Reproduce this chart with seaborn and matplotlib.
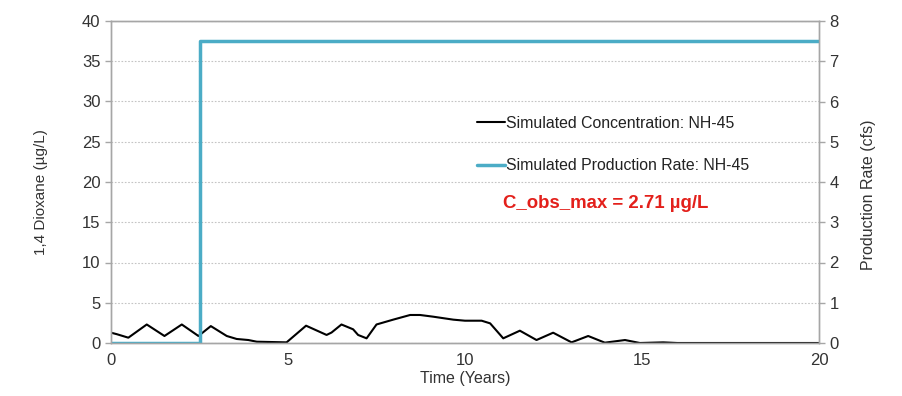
import numpy as np
import pandas as pd
import seaborn as sns
import matplotlib
matplotlib.use("Agg")
import matplotlib.pyplot as plt

# ---- data ----
time_conc = [0.0, 0.16, 0.49, 1.01, 1.51, 2.0, 2.47, 2.82, 3.27, 3.55, 3.88, 4.12,
             4.96, 5.51, 6.09, 6.23, 6.51, 6.84, 6.98, 7.22, 7.5, 7.97, 8.45, 8.73,
             9.1, 9.67, 10.0, 10.47, 10.71, 11.08, 11.55, 12.02, 12.49, 13.01, 13.48,
             13.95, 14.52, 14.94, 15.6, 16.0, 20.0]
conc = [1.28, 1.1, 0.66, 2.3, 0.87, 2.3, 0.87, 2.1, 0.87, 0.5, 0.37, 0.16,
        0.08, 2.15, 1.0, 1.3, 2.3, 1.7, 1.0, 0.58, 2.3, 2.9, 3.48, 3.48,
        3.27, 2.9, 2.77, 2.77, 2.44, 0.58, 1.53, 0.37, 1.28, 0.08, 0.87,
        0.04, 0.37, 0.0, 0.08, 0.0, 0.0]
time_rate = [0.0, 2.5, 20.0]
rate = [0.0, 7.5, 7.5]
x_ticks = [0, 5, 10, 15, 20]
left_ticks = [0, 5, 10, 15, 20, 25, 30, 35, 40]
right_ticks = [0, 1, 2, 3, 4, 5, 6, 7, 8]

conc_label = "Simulated Concentration: NH-45"
rate_label = "Simulated Production Rate: NH-45"
note = "C_obs_max = 2.71 \u00b5g/L"

sns.set_style("white")
plt.rcParams['font.family'] = ['Liberation Sans', 'DejaVu Sans']

fig = plt.figure(figsize=(9.02, 3.96), dpi=100)
ax = fig.add_axes([111/902, 1-343/396, (819-111)/902, (343-21)/396])
ax2 = ax.twinx()

df_c = pd.DataFrame({"t": time_conc, "c": conc})
df_r = pd.DataFrame({"t": time_rate, "q": rate})

sns.lineplot(data=df_c, x="t", y="c", ax=ax, color="black", lw=1.5,
             estimator=None, sort=False, label=conc_label, legend=False)
sns.lineplot(data=df_r, x="t", y="q", ax=ax2, color="#4BACC6", lw=2.5,
             estimator=None, sort=False, drawstyle="steps-post",
             label=rate_label, legend=False)

ax.set_xlim(0, 20)
ax.set_ylim(0, 40)
ax2.set_ylim(0, 8)
ax.set_xticks(x_ticks)
ax.set_yticks(left_ticks)
ax2.set_yticks(right_ticks)

ax.grid(axis='y', color='#c4c4c4', linestyle=(0, (1.5, 1.5)), lw=0.8)
ax.set_axisbelow(True)

gray = '#a6a6a6'
for a in (ax, ax2):
    for s in a.spines.values():
        s.set_color(gray)
        s.set_linewidth(1.0)
    a.tick_params(colors=gray, labelcolor='#333333', labelsize=12, length=4,
                  width=1, direction='out')

ax.set_xlabel("Time (Years)", fontsize=11.5, color='#333333', labelpad=2)
ax.set_ylabel("1,4 Dioxane (\u00b5g/L)", fontsize=11, color='#333333')
ax2.set_ylabel("Production Rate (cfs)", fontsize=11.5, color='#333333')
ax.yaxis.set_label_coords(-0.089, 0.469)
ax2.yaxis.set_label_coords(1.059, 0.46)

h1, l1 = ax.get_legend_handles_labels()
h2, l2 = ax2.get_legend_handles_labels()
fig.legend(h1 + h2, l1 + l2, loc='upper left',
           bbox_to_anchor=(477/902, 1-116/396), frameon=False,
           fontsize=11.4, labelspacing=1.72, handlelength=1.75,
           handletextpad=0.1, borderpad=0, borderaxespad=0,
           labelcolor='#222222')

fig.text(503/902, 1-203/396, note, color='#e3201b', fontsize=13.4,
         fontweight='bold', va='center', ha='left')

fig.savefig("out.png", dpi=100)
